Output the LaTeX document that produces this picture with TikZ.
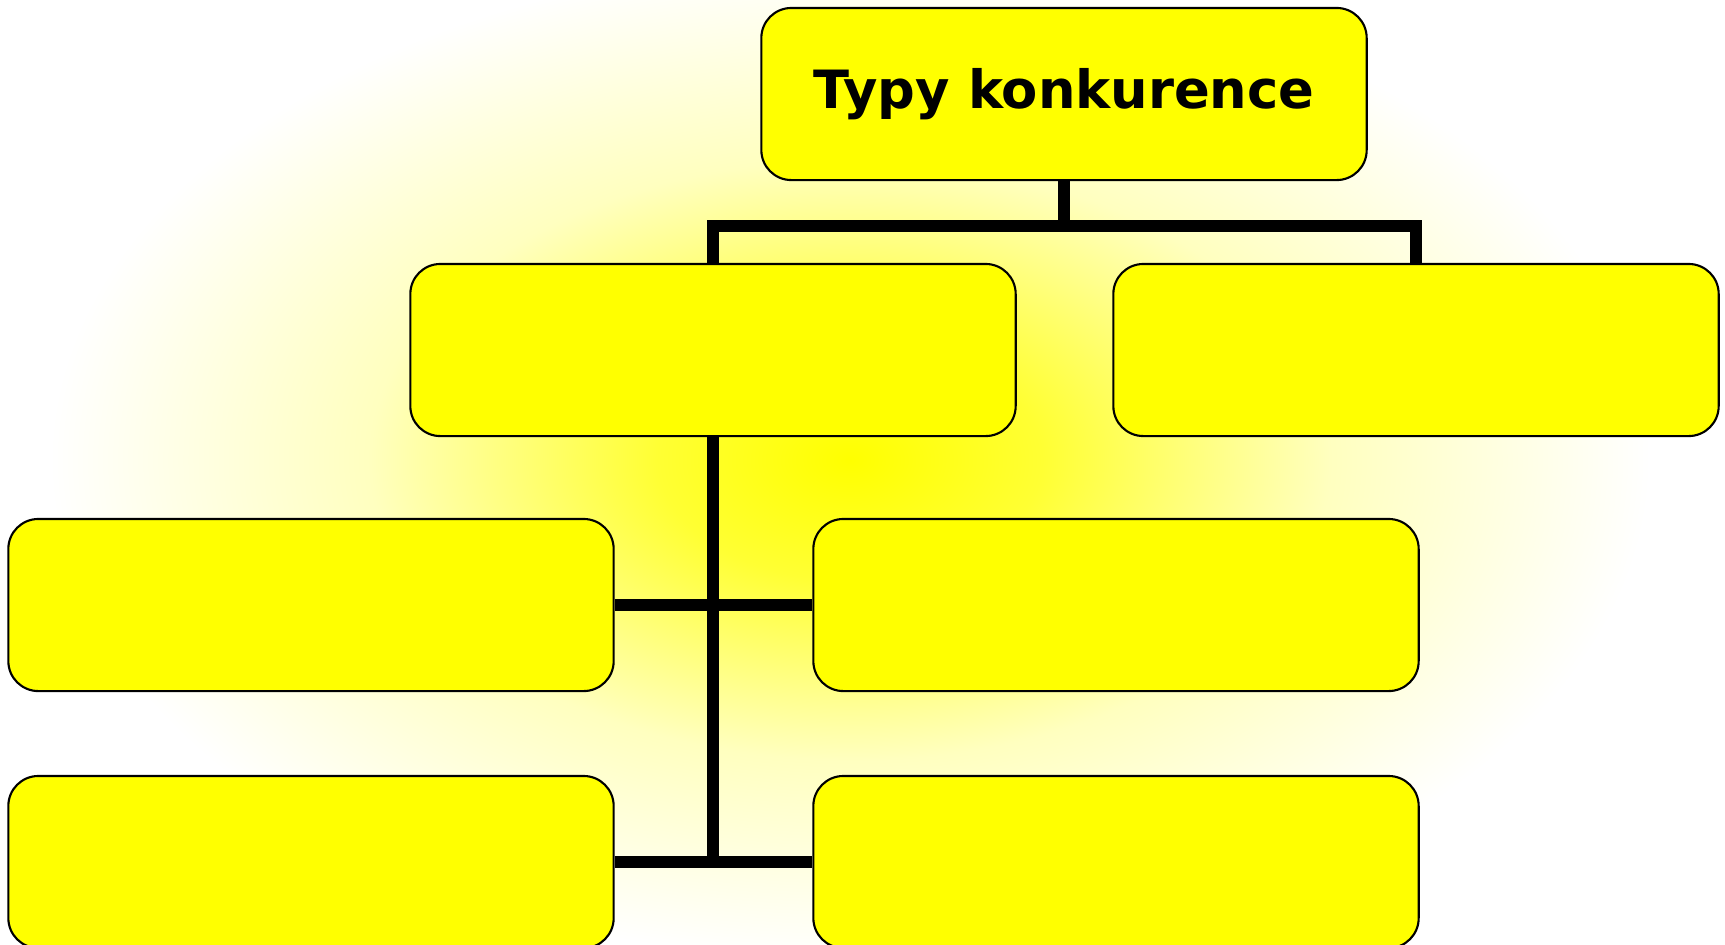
\documentclass[tikz,border=0pt]{standalone}
\usepackage{fontspec}
\setmainfont{DejaVu Sans}
\usepackage{xcolor}
\usetikzlibrary{positioning, backgrounds}

\definecolor{boxyellow}{RGB}{255,255,0}
\pgfdeclareradialshading{glow}{\pgfpoint{0bp}{0bp}}{color(0bp)=(boxyellow); color(6bp)=(boxyellow!80!white); color(15bp)=(boxyellow!25!white); color(25bp)=(white); color(50bp)=(white)}

\begin{document}
\begin{tikzpicture}[x=0.01cm, y=-0.01cm, font=\bfseries\fontsize{15}{18}\selectfont]
		\tikzstyle{box} = [draw=black, line width=0.6pt, fill=boxyellow, rectangle, rounded corners=0.3cm, minimum width=6.05cm, minimum height=1.72cm, inner sep=0pt]
		\tikzstyle{link} = [line width=3.5pt, line join=miter]

		\useasboundingbox (0, 0) rectangle (1725, 944);

		\node[box]	at (1064, 94)	(typy)	{Typy konkurence};

		\node[box]	at (713, 350)	(k1)	{};
		\node[box]	at (1416, 350)	(k2)	{};

		\node[box]	at (311, 605)	(a1)	{};
		\node[box]	at (1116, 605)	(a2)	{};
		\node[box]	at (311, 862)	(b1)	{};
		\node[box]	at (1116, 862)	(b2)	{};

		\begin{scope}[on background layer]
			\fill[white] (0, 0) rectangle (1725, 944);
			\shade[shading=glow] (850, 460) ellipse (800 and 500);
			\draw[link] (typy.south) -- ++(0, 45) coordinate (split);
			\draw[link] (k1.north) |- (split) -| (k2.north);
			\draw[link] (k1.south) -- (k1.south |- b1.east);
			\draw[link] (a1.east) -- (a2.west);
			\draw[link] (b1.east) -- (b2.west);
		\end{scope}
	\end{tikzpicture}
\end{document}
